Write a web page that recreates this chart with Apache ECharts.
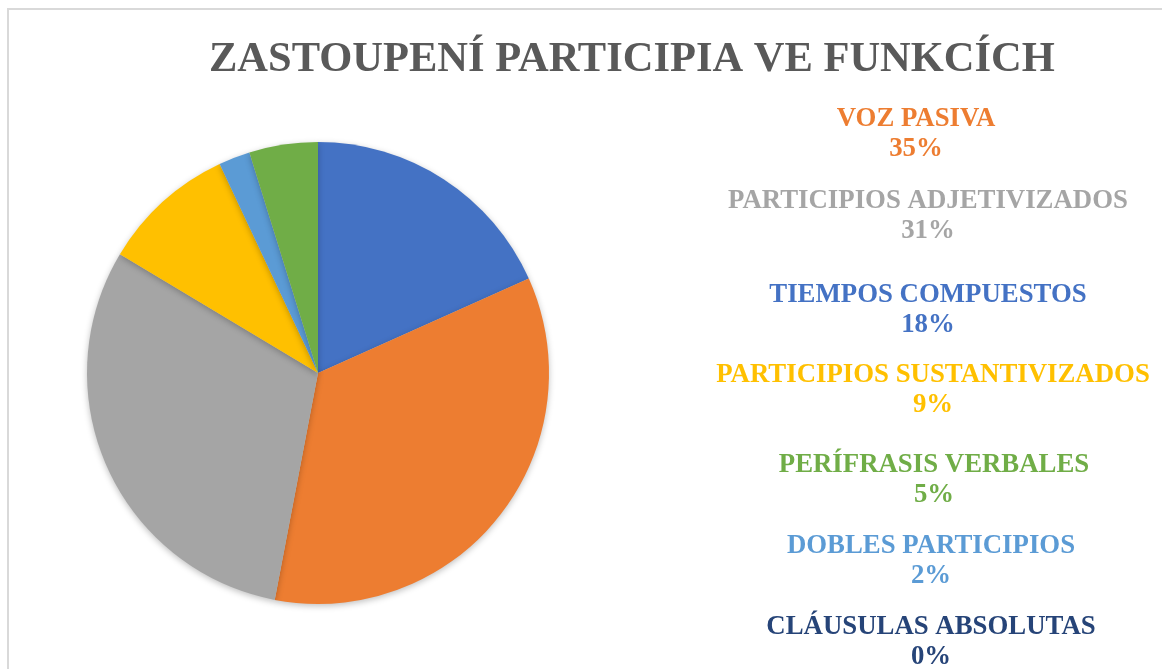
<!DOCTYPE html>
<html>
<head>
<meta charset="utf-8">
<script src="https://cdn.jsdelivr.net/npm/echarts@6/dist/echarts.min.js"></script>
<style>
  html, body { margin: 0; padding: 0; background: #fff; }
  #chart { width: 1162px; height: 669px; }
</style>
</head>
<body>
<div id="chart"></div>
<script>
// categories in slice order (clockwise from top)
var categories = ['TIEMPOS COMPUESTOS', 'VOZ PASIVA', 'PARTICIPIOS ADJETIVIZADOS',
    'PARTICIPIOS SUSTANTIVIZADOS', 'DOBLES PARTICIPIOS', 'PERÍFRASIS VERBALES', 'CLÁUSULAS ABSOLUTAS'];
var values = [18.3, 34.7, 30.6, 9.4, 2.2, 4.8, 0];
var colors = ['#4472C4', '#ED7D31', '#A5A5A5', '#FFC000', '#5B9BD5', '#70AD47', '#264478'];
// order of the labels on the right
var labelOrder = ['VOZ PASIVA', 'PARTICIPIOS ADJETIVIZADOS', 'TIEMPOS COMPUESTOS',
    'PARTICIPIOS SUSTANTIVIZADOS', 'PERÍFRASIS VERBALES', 'DOBLES PARTICIPIOS', 'CLÁUSULAS ABSOLUTAS'];
var titleText = 'ZASTOUPENÍ PARTICIPIA VE FUNKCÍCH';

var serif = '"Liberation Serif", "Times New Roman", serif';
var total = values.reduce(function (a, b) { return a + b; }, 0);

function pct(name) {
    var i = categories.indexOf(name);
    return Math.round(values[i] / total * 100) + '%';
}

// label placement (centre x, centre y of first line), as moved by hand in the original
var labelX = [916, 928, 928, 933, 934, 931, 931];
var labelY = [118, 200, 294, 374, 464, 545, 626];
var boxW = 460;

var legends = labelOrder.map(function (name, k) {
    var i = categories.indexOf(name);
    var st = { width: boxW, align: 'center', fontFamily: serif, fontWeight: 'bold', fontSize: 26.8, lineHeight: 30, color: colors[i] };
    return {
        data: [name],
        left: labelX[k] - boxW / 2 - 5,
        top: labelY[k] - 12,
        padding: 0,
        icon: 'none',
        itemWidth: 0,
        itemHeight: 0,
        selectedMode: false,
        formatter: function (n) {
            return '{n|' + n + '}\n{p|' + pct(n) + '}';
        },
        textStyle: {
            color: colors[i],
            fontFamily: serif,
            fontWeight: 'bold',
            fontSize: 26.8,
            rich: { n: st, p: st }
        }
    };
});

var myChart = echarts.init(document.getElementById('chart'));
var option = {
    backgroundColor: '#fff',
    animation: false,
    color: colors,
    title: {
        text: titleText,
        left: 209,
        top: 39,
        padding: 0,
        textStyle: {
            fontFamily: serif,
            fontWeight: 'bold',
            fontSize: 42.5,
            color: '#595959'
        }
    },
    legend: legends,
    graphic: [{
        type: 'rect',
        silent: true,
        shape: { x: 8, y: 9, width: 2000, height: 2000 },
        style: { fill: 'none', stroke: '#d9d9d9', lineWidth: 2 }
    }],
    series: [{
        type: 'pie',
        center: [318, 373],
        radius: 231,
        startAngle: 90,
        clockwise: true,
        label: { show: false },
        labelLine: { show: false },
        emphasis: { disabled: true },
        itemStyle: {
            borderWidth: 0,
            shadowBlur: 6,
            shadowOffsetY: 2,
            shadowColor: 'rgba(0,0,0,0.25)'
        },
        data: categories.map(function (c, i) {
            return { name: c, value: values[i] };
        })
    }]
};
myChart.setOption(option);
</script>
</body>
</html>
